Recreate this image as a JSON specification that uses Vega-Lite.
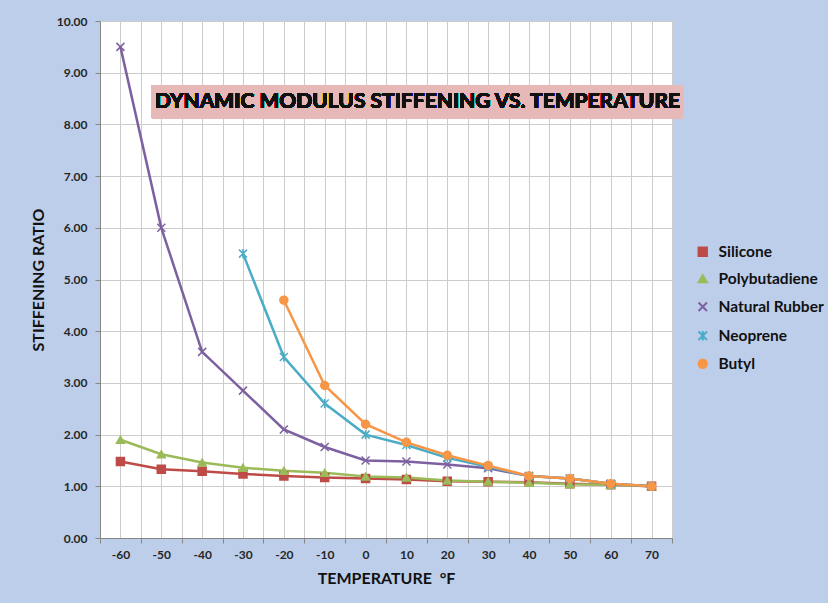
{
  "$schema": "https://vega.github.io/schema/vega-lite/v6.json",
  "width": 572,
  "height": 517,
  "autosize": "none",
  "padding": {"left": 100, "top": 21, "right": 156, "bottom": 65},
  "background": "#BDCEEB",
  "config": {
    "view": {"fill": "white", "stroke": null},
    "font": "Lato"
  },
  "data": {
    "values": [
      {"series": "Silicone", "temp": -60, "ratio": 1.48},
      {"series": "Silicone", "temp": -50, "ratio": 1.33},
      {"series": "Silicone", "temp": -40, "ratio": 1.29},
      {"series": "Silicone", "temp": -30, "ratio": 1.24},
      {"series": "Silicone", "temp": -20, "ratio": 1.20},
      {"series": "Silicone", "temp": -10, "ratio": 1.17},
      {"series": "Silicone", "temp": 0, "ratio": 1.15},
      {"series": "Silicone", "temp": 10, "ratio": 1.13},
      {"series": "Silicone", "temp": 20, "ratio": 1.10},
      {"series": "Silicone", "temp": 30, "ratio": 1.09},
      {"series": "Silicone", "temp": 40, "ratio": 1.08},
      {"series": "Silicone", "temp": 50, "ratio": 1.05},
      {"series": "Silicone", "temp": 60, "ratio": 1.03},
      {"series": "Silicone", "temp": 70, "ratio": 1.00},
      {"series": "Polybutadiene", "temp": -60, "ratio": 1.90},
      {"series": "Polybutadiene", "temp": -50, "ratio": 1.62},
      {"series": "Polybutadiene", "temp": -40, "ratio": 1.46},
      {"series": "Polybutadiene", "temp": -30, "ratio": 1.36},
      {"series": "Polybutadiene", "temp": -20, "ratio": 1.30},
      {"series": "Polybutadiene", "temp": -10, "ratio": 1.26},
      {"series": "Polybutadiene", "temp": 0, "ratio": 1.19},
      {"series": "Polybutadiene", "temp": 10, "ratio": 1.17},
      {"series": "Polybutadiene", "temp": 20, "ratio": 1.11},
      {"series": "Polybutadiene", "temp": 30, "ratio": 1.09},
      {"series": "Polybutadiene", "temp": 40, "ratio": 1.07},
      {"series": "Polybutadiene", "temp": 50, "ratio": 1.04},
      {"series": "Polybutadiene", "temp": 60, "ratio": 1.03},
      {"series": "Polybutadiene", "temp": 70, "ratio": 1.00},
      {"series": "Natural Rubber", "temp": -60, "ratio": 9.50},
      {"series": "Natural Rubber", "temp": -50, "ratio": 6.00},
      {"series": "Natural Rubber", "temp": -40, "ratio": 3.60},
      {"series": "Natural Rubber", "temp": -30, "ratio": 2.85},
      {"series": "Natural Rubber", "temp": -20, "ratio": 2.10},
      {"series": "Natural Rubber", "temp": -10, "ratio": 1.76},
      {"series": "Natural Rubber", "temp": 0, "ratio": 1.50},
      {"series": "Natural Rubber", "temp": 10, "ratio": 1.48},
      {"series": "Natural Rubber", "temp": 20, "ratio": 1.42},
      {"series": "Natural Rubber", "temp": 30, "ratio": 1.35},
      {"series": "Natural Rubber", "temp": 40, "ratio": 1.20},
      {"series": "Natural Rubber", "temp": 50, "ratio": 1.15},
      {"series": "Natural Rubber", "temp": 60, "ratio": 1.05},
      {"series": "Natural Rubber", "temp": 70, "ratio": 1.00},
      {"series": "Neoprene", "temp": -30, "ratio": 5.50},
      {"series": "Neoprene", "temp": -20, "ratio": 3.50},
      {"series": "Neoprene", "temp": -10, "ratio": 2.60},
      {"series": "Neoprene", "temp": 0, "ratio": 2.00},
      {"series": "Neoprene", "temp": 10, "ratio": 1.80},
      {"series": "Neoprene", "temp": 20, "ratio": 1.55},
      {"series": "Neoprene", "temp": 30, "ratio": 1.38},
      {"series": "Neoprene", "temp": 40, "ratio": 1.20},
      {"series": "Neoprene", "temp": 50, "ratio": 1.15},
      {"series": "Neoprene", "temp": 60, "ratio": 1.05},
      {"series": "Neoprene", "temp": 70, "ratio": 1.00},
      {"series": "Butyl", "temp": -20, "ratio": 4.60},
      {"series": "Butyl", "temp": -10, "ratio": 2.95},
      {"series": "Butyl", "temp": 0, "ratio": 2.20},
      {"series": "Butyl", "temp": 10, "ratio": 1.85},
      {"series": "Butyl", "temp": 20, "ratio": 1.60},
      {"series": "Butyl", "temp": 30, "ratio": 1.40},
      {"series": "Butyl", "temp": 40, "ratio": 1.20},
      {"series": "Butyl", "temp": 50, "ratio": 1.15},
      {"series": "Butyl", "temp": 60, "ratio": 1.05},
      {"series": "Butyl", "temp": 70, "ratio": 1.00}
    ]
  },
  "resolve": {"axis": {"x": "independent", "y": "independent"}},
  "layer": [
    {
      "mark": {"type": "rect", "color": "#E6B9B8", "clip": false},
      "encoding": {
        "x": {
          "datum": -52.3, "type": "quantitative",
          "scale": {"domain": [-65, 75], "nice": false, "zero": false},
          "axis": {
            "orient": "bottom",
            "values": [-65, -55, -45, -35, -25, -15, -5, 5, 15, 25, 35, 45, 55, 65, 75],
            "title": null, "labels": false,
            "grid": true, "gridColor": "#CCCCCC", "gridWidth": 1,
            "domainColor": "#868686", "tickColor": "#868686", "tickSize": 5
          }
        },
        "x2": {"datum": 77.7},
        "y": {
          "datum": 8.76, "type": "quantitative",
          "scale": {"domain": [0, 10], "nice": false},
          "axis": {
            "orient": "left",
            "values": [0, 1, 2, 3, 4, 5, 6, 7, 8, 9, 10],
            "format": ".2f",
            "title": "STIFFENING RATIO",
            "titleFont": "Lato", "titleFontSize": 16, "titleFontWeight": "bold", "titleColor": "#111111", "titlePadding": 10,
            "labelFont": "Lato", "labelFontSize": 12, "labelFontWeight": "bold", "labelColor": "#262626", "labelPadding": 8,
            "grid": true, "gridColor": "#CCCCCC", "gridWidth": 1,
            "domainColor": "#868686", "tickColor": "#868686", "tickSize": 5
          }
        },
        "y2": {"datum": 8.12}
      }
    },
    {
      "mark": {"type": "text", "text": "DYNAMIC MODULUS STIFFENING VS. TEMPERATURE", "font": "Lato", "fontWeight": "bold", "fontSize": 21, "color": "#111111", "align": "center", "baseline": "middle"},
      "encoding": {
        "x": {"datum": 12.7, "type": "quantitative", "axis": null},
        "y": {"datum": 8.44, "type": "quantitative", "axis": null}
      }
    },
    {
      "mark": {"type": "line", "strokeWidth": 2.5},
      "encoding": {
        "x": {
          "field": "temp", "type": "quantitative",
          "axis": {
            "orient": "bottom",
            "values": [-60, -50, -40, -30, -20, -10, 0, 10, 20, 30, 40, 50, 60, 70],
            "labelExpr": "'' + datum.value",
            "title": "TEMPERATURE \u00a0°F",
            "titleFont": "Lato", "titleFontSize": 16, "titleFontWeight": "bold", "titleColor": "#111111", "titlePadding": 10,
            "labelFont": "Lato", "labelFontSize": 12, "labelFontWeight": "bold", "labelColor": "#262626", "labelPadding": 11,
            "labelFlush": false, "labelOverlap": false,
            "ticks": false, "domain": false,
            "grid": true, "gridColor": "#CCCCCC", "gridWidth": 1
          }
        },
        "y": {"field": "ratio", "type": "quantitative", "axis": null},
        "color": {
          "field": "series", "type": "nominal",
          "scale": {
            "domain": ["Silicone", "Polybutadiene", "Natural Rubber", "Neoprene", "Butyl"],
            "range": ["#BE4B48", "#9BBB59", "#7D60A0", "#4BACC6", "#F79646"]
          },
          "legend": {
            "title": null, "orient": "none", "legendX": 595, "legendY": 223,
            "symbolSize": 70, "symbolStrokeWidth": 2,
            "labelFont": "Lato", "labelFontSize": 15.5, "labelFontWeight": "bold", "labelColor": "#111111",
            "rowPadding": 10, "labelOffset": 8
          }
        }
      }
    },
    {
      "mark": {"type": "point", "filled": false, "strokeWidth": 1.5, "size": 64, "opacity": 1},
      "encoding": {
        "x": {"field": "temp", "type": "quantitative", "axis": null},
        "y": {"field": "ratio", "type": "quantitative", "axis": null},
        "color": {"field": "series", "type": "nominal"},
        "fill": {
          "field": "series", "type": "nominal",
          "scale": {
            "domain": ["Silicone", "Polybutadiene", "Natural Rubber", "Neoprene", "Butyl"],
            "range": ["#BE4B48", "#9BBB59", "#7D60A0", "#4BACC6", "#F79646"]
          },
          "legend": null
        },
        "shape": {
          "field": "series", "type": "nominal",
          "scale": {
            "domain": ["Silicone", "Polybutadiene", "Natural Rubber", "Neoprene", "Butyl"],
            "range": ["square", "triangle-up", "M-1,-1L1,1M-1,1L1,-1", "M-1,-1L1,1M-1,1L1,-1M0,-1.15L0,1.15", "circle"]
          },
          "legend": null
        }
      }
    }
  ]
}
